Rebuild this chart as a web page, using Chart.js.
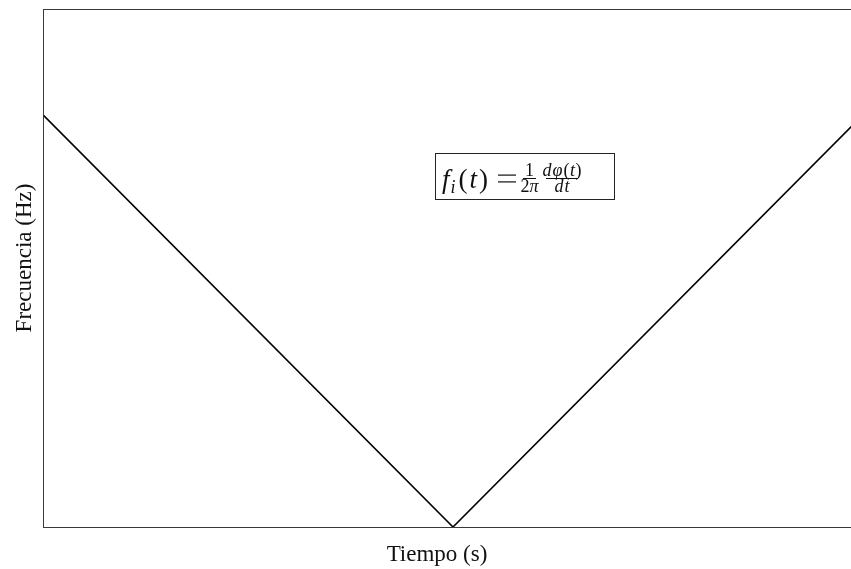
<!DOCTYPE html>
<html>
<head>
<meta charset="utf-8">
<script src="https://cdn.jsdelivr.net/npm/chart.js@4"></script>
<style>
  html, body { margin: 0; padding: 0; background: #fff; overflow: hidden; }
  #wrap { width: 880px; height: 569px; }
</style>
</head>
<body>
<div id="wrap"><canvas id="freqChart" width="880" height="569"></canvas></div>
<script>
// Instantaneous frequency sweep: falls linearly, then rises again
const tiempo = [0, 1, 2];
const frecuencia = [1, 0, 1];
const xRange = [0, 2];
const yRange = [0, 1.257];

const xTitle = 'Tiempo (s)';
const yTitle = 'Frecuencia (Hz)';

const serif = '"Liberation Serif", "DejaVu Serif", serif';

// frame, axis titles and the formula box
const decorations = {
    id: 'decorations',
    afterDraw(chart) {
        const ctx = chart.ctx;
        const a = chart.chartArea;
        ctx.save();

        // frame
        ctx.strokeStyle = '#3a3a3a';
        ctx.lineWidth = 1;
        ctx.strokeRect(Math.round(a.left) + 0.5, Math.round(a.top) + 0.5,
            Math.round(a.right - a.left), Math.round(a.bottom - a.top));

        // axis titles
        ctx.fillStyle = '#111';
        ctx.font = '23px ' + serif;
        ctx.textAlign = 'center';
        ctx.textBaseline = 'alphabetic';
        ctx.fillText(xTitle, 437, a.bottom + 34);

        ctx.save();
        ctx.translate(31, 258);
        ctx.rotate(-Math.PI / 2);
        ctx.fillText(yTitle, 0, 0);
        ctx.restore();

        // formula box
        const bx = 435, by = 153, bw = 179, bh = 46;
        ctx.fillStyle = '#fff';
        ctx.fillRect(bx, by, bw, bh);
        ctx.strokeStyle = '#222';
        ctx.strokeRect(bx + 0.5, by + 0.5, bw, bh);

        ctx.fillStyle = '#111';
        ctx.textAlign = 'left';
        const base = by + 35;
        const axisY = by + 25.5;
        const big = '27px ' + serif;
        const bigIt = 'italic 27px ' + serif;
        const small = '18px ' + serif;
        const smallIt = 'italic 18px ' + serif;
        let x = bx + 7;

        const put = (txt, font, dx, y) => {
            ctx.font = font;
            ctx.fillText(txt, x + dx, y);
            x += dx + ctx.measureText(txt).width;
        };
        put('f', bigIt, 0, base);
        put('i', smallIt, 1, base + 5);
        put('(', big, 3, base);
        put('t', bigIt, 2, base);
        put(')', big, 2, base);

        // wide equals sign, drawn as two bars
        ctx.fillRect(bx + 63, axisY - 4, 18, 1.2);
        ctx.fillRect(bx + 63, axisY + 2.8, 18, 1.2);

        // fraction centred on cx, bar of width w; parts are [text, italic, extra gap]
        const frac = (cx, w, num, den) => {
            const width = parts => parts.reduce((s, p) => {
                ctx.font = p[1] ? smallIt : small;
                return s + ctx.measureText(p[0]).width + (p[2] || 0);
            }, 0);
            const drawParts = (parts, y) => {
                let px = cx - width(parts) / 2;
                parts.forEach(p => {
                    ctx.font = p[1] ? smallIt : small;
                    ctx.fillText(p[0], px, y);
                    px += ctx.measureText(p[0]).width + (p[2] || 0);
                });
            };
            drawParts(num, axisY - 3);
            drawParts(den, axisY + 13);
            ctx.fillRect(cx - w / 2, axisY - 0.5, w, 1);
        };
        frac(bx + 94.5, 13, [['1', false]], [['2', false], ['π', true]]);
        frac(bx + 127, 32,
            [['d', true, 1], ['φ', true, 1], ['(', false, 0.5], ['t', true, 0.5], [')', false]],
            [['d', true, 1], ['t', true]]);

        ctx.restore();
    }
};

new Chart(document.getElementById('freqChart'), {
    type: 'line',
    data: {
        datasets: [{
            data: tiempo.map((t, i) => ({ x: t, y: frecuencia[i] })),
            borderColor: '#000',
            borderWidth: 1.6,
            pointRadius: 0,
            tension: 0,
            fill: false
        }]
    },
    options: {
        responsive: false,
        animation: false,
        layout: { padding: { left: 43, top: 9, right: 17, bottom: 42 } },
        plugins: {
            legend: { display: false },
            tooltip: { enabled: false }
        },
        scales: {
            x: {
                type: 'linear',
                min: xRange[0],
                max: xRange[1],
                grid: { display: false, drawTicks: false },
                border: { display: false },
                ticks: { display: false }
            },
            y: {
                type: 'linear',
                min: yRange[0],
                max: yRange[1],
                grid: { display: false, drawTicks: false },
                border: { display: false },
                ticks: { display: false }
            }
        }
    },
    plugins: [decorations]
});
</script>
</body>
</html>
